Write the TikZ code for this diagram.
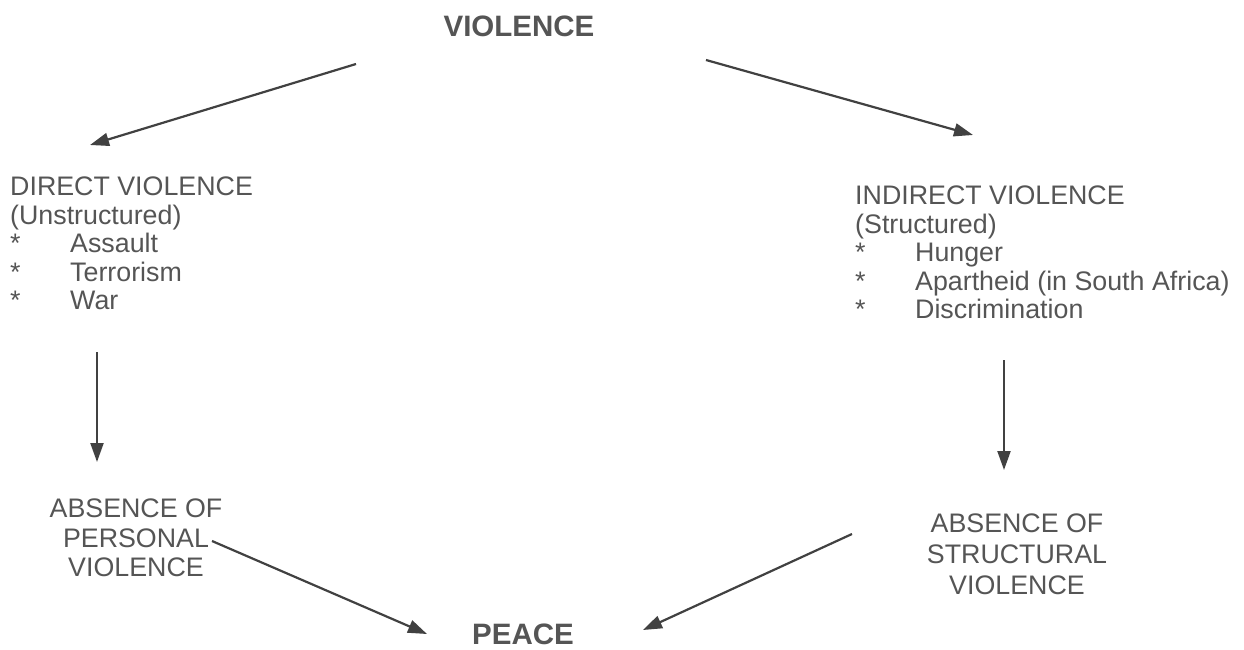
\documentclass[tikz,border=0pt]{standalone}
\usepackage{fontspec}
\setmainfont{Liberation Sans}
\usetikzlibrary{arrows.meta,calc}
\definecolor{txt}{RGB}{85,85,85}
\definecolor{ln}{RGB}{65,65,65}
\newcommand\itm{\makebox[60pt][l]{*}}
\begin{document}
\begin{tikzpicture}[x=1pt,y=-1pt,
  lbl/.style={inner sep=0pt, text=txt, font=\fontsize{26.8}{28.5}\selectfont, align=left, anchor=north west},
  ctr/.style={inner sep=0pt, text=txt, font=\fontsize{26.8}{29.5}\selectfont, align=center, anchor=north},
  ttl/.style={inner sep=0pt, text=txt, font=\fontsize{29.5}{30}\selectfont\bfseries},
  arr/.style={draw=ln, line width=2.2pt, -{Triangle[length=19pt,width=13pt]}}]
\useasboundingbox (0,0) rectangle (1244,650);
\node[ttl] (viol) at (519,26) {VIOLENCE};
\node[lbl] (direct) at (10,177) {DIRECT VIOLENCE\\(Unstructured)\\\itm Assault\\\itm Terrorism\\\itm War};
\node[lbl] (indirect) at (855,186) {INDIRECT VIOLENCE\\(Structured)\\\itm Hunger\\\itm Apartheid (in South Africa)\\\itm Discrimination};
\node[ctr] (absp) at (136,499) {ABSENCE OF\\PERSONAL\\VIOLENCE};
\node[ctr, font=\fontsize{26.8}{31}\selectfont] (abss) at (1017,514) {ABSENCE OF\\STRUCTURAL\\VIOLENCE};
\node[ttl] (peace) at (523,634) {PEACE};
\draw[arr] ($(viol.center)+(-163,38)$) -- ($(direct.north west)+(80,-32)$);
\draw[arr] ($(viol.center)+(187,34)$) -- ($(indirect.north west)+(118,-51)$);
\draw[arr] ($(direct.north west)+(87,175)$) -- ($(absp.north)+(-39,-37)$);
\draw[arr] ($(indirect.north west)+(149,174)$) -- ($(abss.north)+(-13,-44)$);
\draw[arr] ($(absp.north)+(76,42)$) -- ($(peace.center)+(-96,0)$);
\draw[arr] ($(abss.north)+(-165,20)$) -- ($(peace.center)+(120,-4)$);
\end{tikzpicture}
\end{document}
